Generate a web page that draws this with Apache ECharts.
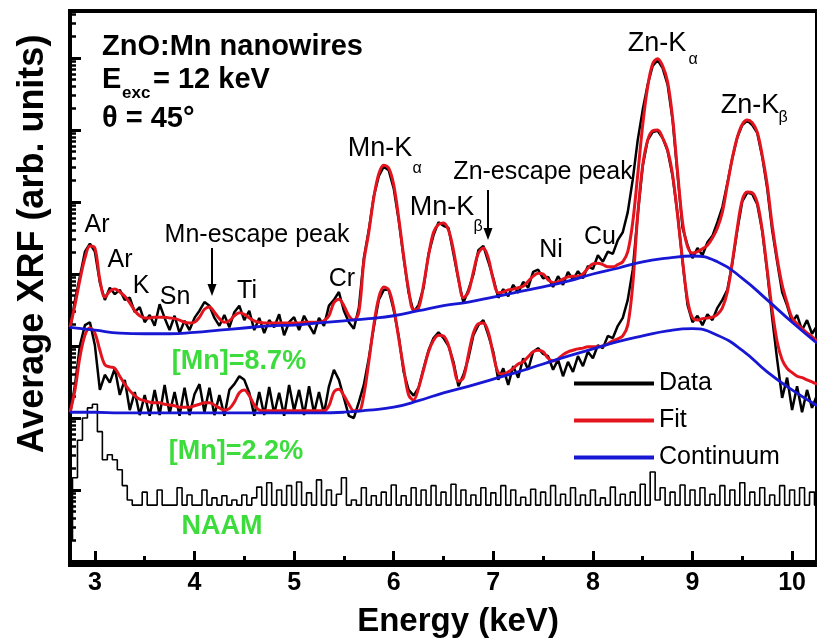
<!DOCTYPE html>
<html><head><meta charset="utf-8">
<script src="https://cdn.jsdelivr.net/npm/echarts@6/dist/echarts.min.js"></script>
<style>html,body{margin:0;padding:0;background:#fff}#c{width:817px;height:644px}</style>
</head><body><div id="c"></div>
<script>
// Energy sampling grid (keV)
const energy = [
2.75,2.8,2.85,2.9,2.95,3,3.05,3.1,3.15,3.2,
3.25,3.3,3.35,3.4,3.45,3.5,3.55,3.6,3.65,3.7,
3.75,3.8,3.85,3.9,3.95,4,4.05,4.1,4.15,4.2,
4.25,4.3,4.35,4.4,4.45,4.5,4.55,4.6,4.65,4.7,
4.75,4.8,4.85,4.9,4.95,5,5.05,5.1,5.15,5.2,
5.25,5.3,5.35,5.4,5.45,5.5,5.55,5.6,5.65,5.7,
5.75,5.8,5.85,5.9,5.95,6,6.05,6.1,6.15,6.2,
6.25,6.3,6.35,6.4,6.45,6.5,6.55,6.6,6.65,6.7,
6.75,6.8,6.85,6.9,6.95,7,7.05,7.1,7.15,7.2,
7.25,7.3,7.35,7.4,7.45,7.5,7.55,7.6,7.65,7.7,
7.75,7.8,7.85,7.9,7.95,8,8.05,8.1,8.15,8.2,
8.25,8.3,8.35,8.4,8.45,8.5,8.55,8.6,8.65,8.7,
8.75,8.8,8.85,8.9,8.95,9,9.05,9.1,9.15,9.2,
9.25,9.3,9.35,9.4,9.45,9.5,9.55,9.6,9.65,9.7,
9.75,9.8,9.85,9.9,9.95,10,10.05,10.1,10.15,10.2,
10.25];
// log10 of XRF intensity (arb. units), offset spectra
const topData = [
3.22,3.64,3.97,4.31,4.42,4.31,3.88,3.64,3.81,3.72,
3.78,3.64,3.67,3.47,3.54,3.33,3.43,3.28,3.58,3.39,
3.22,3.42,3.18,3.35,3.22,3.39,3.49,3.61,3.56,3.39,
3.28,3.43,3.26,3.47,3.56,3.36,3.49,3.22,3.39,3.18,
3.36,3.26,3.44,3.15,3.33,3.40,3.22,3.42,3.29,3.17,
3.39,3.28,3.56,3.64,3.75,3.49,3.33,3.24,3.53,4.22,
4.61,5.08,5.36,5.49,5.44,5.19,4.75,4.22,3.74,3.47,
3.57,3.81,4.28,4.54,4.72,4.67,4.64,4.28,3.92,3.60,
3.78,3.99,4.33,4.39,4.17,3.94,3.67,3.79,3.69,3.85,
3.74,3.89,3.81,4.03,4.06,3.94,3.96,3.82,3.97,3.85,
4.03,3.92,4.04,3.94,4.11,4.07,4.26,4.17,4.31,4.28,
4.47,4.58,4.86,5.31,5.86,6.28,6.63,6.89,6.97,6.86,
6.63,6.14,5.38,4.64,4.40,4.22,4.36,4.26,4.44,4.53,
4.72,4.93,5.26,5.61,5.90,6.07,6.13,6.07,5.96,5.63,
5.19,4.61,4.17,3.75,3.56,3.33,3.43,3.22,3.36,3.17,
3.28];
const topFit = [
3.26,3.57,3.92,4.22,4.39,4.36,3.92,3.68,3.76,3.79,
3.75,3.69,3.60,3.49,3.42,3.39,3.39,3.40,3.40,3.40,
3.39,3.38,3.36,3.33,3.32,3.33,3.40,3.51,3.54,3.47,
3.38,3.33,3.35,3.42,3.46,3.44,3.39,3.35,3.33,3.32,
3.32,3.32,3.32,3.32,3.32,3.32,3.32,3.33,3.33,3.33,
3.33,3.35,3.42,3.60,3.65,3.56,3.42,3.36,3.47,4.17,
4.58,5.06,5.39,5.51,5.47,5.24,4.78,4.25,3.78,3.50,
3.53,3.85,4.26,4.58,4.69,4.71,4.61,4.33,3.94,3.67,
3.75,4.03,4.29,4.36,4.22,3.92,3.74,3.75,3.78,3.79,
3.81,3.83,3.90,3.97,4.01,4.00,3.92,3.88,3.89,3.93,
3.96,3.97,3.97,4.00,4.08,4.14,4.15,4.13,4.10,4.10,
4.13,4.17,4.31,4.72,5.38,6.07,6.60,6.92,6.99,6.89,
6.67,6.17,5.42,4.72,4.38,4.29,4.31,4.35,4.40,4.50,
4.64,4.86,5.24,5.61,5.90,6.08,6.14,6.10,5.97,5.65,
5.24,4.68,4.22,3.85,3.60,3.39,3.31,3.24,3.18,3.13,
3.07];
const midData = [
2.04,2.46,3.01,3.29,3.33,3.01,2.39,2.60,2.49,2.69,
2.32,2.53,2.11,2.36,2.04,2.32,2.03,2.39,2.04,2.46,
2.06,2.36,2.03,2.42,2.04,2.33,2.47,2.08,2.42,2.04,
2.32,2.03,2.39,2.47,2.58,2.53,2.35,2.03,2.36,2.04,
2.43,2.06,2.35,2.03,2.46,2.10,2.39,2.04,2.44,2.07,
2.36,2.06,2.44,2.67,2.53,2.28,2.03,2.00,2.22,2.46,
2.83,3.26,3.64,3.78,3.78,3.50,3.14,2.64,2.39,2.31,
2.42,2.69,2.94,3.11,3.19,3.11,3.00,2.78,2.44,2.60,
2.83,3.15,3.29,3.36,3.15,2.92,2.53,2.69,2.46,2.72,
2.56,2.83,2.67,2.92,2.97,2.89,2.86,2.67,2.81,2.58,
2.78,2.64,2.86,2.72,2.92,2.83,3.01,2.97,3.14,3.11,
3.28,3.39,3.64,4.06,4.82,5.50,5.86,5.97,5.99,5.89,
5.71,5.36,4.83,4.17,3.57,3.33,3.42,3.29,3.44,3.36,
3.53,3.64,3.78,4.15,4.61,5.01,5.13,5.11,4.97,4.60,
4.03,3.39,2.81,2.28,2.56,2.11,2.44,2.08,2.39,2.14,
2.32];
const midFit = [
2.08,2.39,2.85,3.15,3.25,3.18,2.94,2.74,2.71,2.69,
2.58,2.47,2.38,2.31,2.26,2.24,2.22,2.21,2.21,2.19,
2.18,2.17,2.15,2.15,2.15,2.17,2.19,2.21,2.21,2.18,
2.14,2.11,2.13,2.22,2.35,2.39,2.31,2.18,2.11,2.10,
2.10,2.10,2.10,2.10,2.10,2.10,2.10,2.10,2.10,2.10,
2.10,2.10,2.17,2.36,2.40,2.31,2.19,2.10,2.10,2.32,
2.78,3.29,3.67,3.82,3.78,3.53,3.11,2.69,2.32,2.25,
2.42,2.67,2.92,3.08,3.15,3.14,3.01,2.74,2.51,2.56,
2.88,3.18,3.31,3.32,3.19,2.88,2.63,2.61,2.64,2.69,
2.75,2.78,2.85,2.92,2.94,2.92,2.83,2.79,2.82,2.88,
2.92,2.94,2.96,2.97,2.99,2.99,2.99,3.00,3.03,3.07,
3.10,3.14,3.29,3.85,4.82,5.51,5.86,5.99,6.00,5.89,
5.72,5.38,4.82,4.19,3.64,3.39,3.36,3.38,3.39,3.40,
3.44,3.53,3.75,4.17,4.64,5.03,5.14,5.13,4.99,4.61,
4.06,3.50,3.06,2.81,2.69,2.63,2.58,2.56,2.53,2.50,
2.47];
const naamData = [
0.31,1.17,1.69,2.00,2.14,2.19,1.81,1.42,1.49,1.42,
1.28,1.06,0.86,0.79,0.79,0.97,0.79,0.79,1.00,0.79,
0.79,0.79,1.03,0.79,0.93,0.79,0.79,1.00,0.79,0.89,
0.79,0.92,0.79,0.86,0.79,0.93,0.79,0.89,1.04,0.79,
1.10,0.79,1.00,0.79,1.06,0.79,1.11,0.79,0.96,0.79,
1.14,0.79,1.00,0.79,0.94,1.17,0.79,0.86,0.79,1.03,
0.79,0.92,0.79,0.97,0.79,1.07,0.79,0.92,0.79,1.03,
0.79,1.00,0.79,1.06,0.79,0.97,0.79,1.08,0.79,1.00,
0.79,0.93,0.79,1.03,0.79,0.96,0.79,1.06,0.79,1.00,
0.79,0.90,0.79,1.01,0.79,0.97,0.79,1.06,0.79,0.94,
0.79,1.03,0.79,0.93,0.79,1.00,0.79,0.89,0.79,1.04,
0.79,0.94,0.79,0.97,0.79,1.08,0.79,1.25,0.86,1.03,
0.79,0.97,0.79,1.07,0.79,1.00,0.79,1.03,0.79,0.94,
0.79,1.06,0.79,1.00,0.79,1.10,0.79,0.97,0.79,1.03,
0.79,0.93,0.79,1.06,0.79,1.00,0.79,1.03,0.79,0.97,
0.79];
// Continuum (coarser grid)
const contEnergy = [2.75,3,3.25,3.5,3.75,4,4.25,4.5,4.75,5,5.25,5.5,5.75,6,6.25,6.5,6.75,7,7.25,7.5,7.75,8,8.25,8.5,8.75,9,9.25,9.5,9.75,10,10.25];
const topContinuum = [3.26,3.22,3.18,3.17,3.17,3.19,3.22,3.25,3.28,3.29,3.32,3.35,3.38,3.42,3.49,3.56,3.61,3.68,3.75,3.82,3.90,4.00,4.08,4.17,4.22,4.25,4.17,3.94,3.64,3.33,3.04];
const midContinuum = [2.08,2.08,2.07,2.07,2.07,2.07,2.07,2.07,2.07,2.07,2.07,2.08,2.11,2.15,2.24,2.35,2.44,2.54,2.64,2.75,2.86,2.96,3.06,3.14,3.21,3.24,3.15,2.94,2.64,2.39,2.17];
// Axis ticks
const xTickLabels = [3,4,5,6,7,8,9,10];
const xMinorTicks = [3.5,4.5,5.5,6.5,7.5,8.5,9.5];
const yDecades = [0,1,2,3,4,5,6,7];
const yMinorTicks = [];
yDecades.forEach(k => { for (let m = 2; m <= 9; m++) { const v = k + Math.log10(m); if (v < 7.65) yMinorTicks.push(+v.toFixed(4)); } });

const FONT = '"Liberation Sans", Arial, sans-serif';
const RED = '#e3141e', BLUE = '#1717d4', GREEN = '#3cdc3c';
const pair = (xs, ys) => xs.map((x, i) => [x, ys[i]]);

const chart = echarts.init(document.getElementById('c'), null, {renderer: 'canvas'});
function txt(text, x, y, size, opts) {
  opts = opts || {};
  return { type: 'text', x: x, y: y, z: 100, rotation: opts.rot || 0,
    style: { text: text, font: (opts.bold ? 'bold ' : '') + size + 'px ' + FONT,
      fill: opts.color || '#000', align: opts.align || 'center', verticalAlign: 'middle' } };
}
const graphics = [
  txt('ZnO:Mn nanowires', 102, 47, 29, {bold: true, align: 'left'}),
  txt('E', 102, 80, 29, {bold: true, align: 'left'}),
  txt('exc', 122, 93, 17, {bold: true, align: 'left'}),
  txt('= 12 keV', 153, 80, 29, {bold: true, align: 'left'}),
  txt('\u03b8 = 45\u00b0', 102, 119, 29, {bold: true, align: 'left'}),
  txt('Ar', 97, 225, 25), txt('Ar', 120, 260, 25), txt('K', 141, 286, 25), txt('Sn', 175, 297, 25),
  txt('Mn-escape peak', 257, 235, 25), txt('Ti', 247, 291, 25), txt('Cr', 342, 279, 25),
  txt('Mn-K', 380, 149, 27), txt('\u03b1', 417, 169, 16),
  txt('Mn-K', 442, 208, 27), txt('\u03b2', 478, 227, 16),
  txt('Zn-escape peak', 543, 172, 25), txt('Ni', 551, 250, 25), txt('Cu', 600, 237, 25),
  txt('Zn-K', 657, 44, 27), txt('\u03b1', 693, 60, 16),
  txt('Zn-K', 750, 106, 27), txt('\u03b2', 783, 118, 16),
  txt('[Mn]=8.7%', 239, 362, 27, {bold: true, color: GREEN}),
  txt('[Mn]=2.2%', 236, 452, 27, {bold: true, color: GREEN}),
  txt('NAAM', 222, 527, 27, {bold: true, color: GREEN}),
  txt('Energy (keV)', 458, 622, 33, {bold: true}),
  txt('Average XRF (arb. units)', 33, 244, 36, {bold: true, rot: Math.PI / 2}),
  { type: 'line', z: 100, shape: {x1: 212, y1: 248, x2: 212, y2: 286}, style: {stroke: '#000', lineWidth: 2} },
  { type: 'polygon', z: 100, shape: {points: [[212, 296], [207.5, 284], [216.5, 284]]}, style: {fill: '#000'} },
  { type: 'line', z: 100, shape: {x1: 488, y1: 190, x2: 488, y2: 230}, style: {stroke: '#000', lineWidth: 2} },
  { type: 'polygon', z: 100, shape: {points: [[488, 240], [483.5, 228], [492.5, 228]]}, style: {fill: '#000'} }
];

const line = (name, data, color, width, extra) => Object.assign({
  type: 'line', name: name, data: data, symbol: 'none', color: color,
  lineStyle: {color: color, width: width}, animation: false, silent: true
}, extra || {});

chart.setOption({
  animation: false,
  backgroundColor: '#fff',
  grid: {left: 70, top: 11, width: 754, height: 554, show: true, borderColor: '#000', borderWidth: 4, backgroundColor: 'transparent'},
  legend: {
    data: ['Data', 'Fit', 'Continuum'], orient: 'vertical', left: 569, top: 366,
    itemWidth: 80, itemHeight: 4, itemGap: 12, icon: 'rect',
    textStyle: {fontSize: 25, color: '#000', fontFamily: FONT}
  },
  xAxis: [
    { type: 'value', min: 2.75, max: 10.25, position: 'bottom',
      axisLine: {lineStyle: {color: '#000', width: 4}},
      axisTick: {inside: true, length: 11, lineStyle: {color: '#000', width: 3}, customValues: xTickLabels},
      axisLabel: {customValues: xTickLabels, fontSize: 25, fontWeight: 'bold', color: '#000', margin: 6, fontFamily: FONT},
      splitLine: {show: false} },
    { type: 'value', min: 2.75, max: 10.25, position: 'bottom',
      axisLine: {show: false},
      axisTick: {inside: true, length: 6, lineStyle: {color: '#000', width: 3}, customValues: xMinorTicks},
      axisLabel: {show: false}, splitLine: {show: false} }
  ],
  yAxis: [
    { type: 'value', min: -0.042, max: 7.653, position: 'left',
      axisLine: {lineStyle: {color: '#000', width: 4}},
      axisTick: {inside: true, length: 11, lineStyle: {color: '#000', width: 3}, customValues: yDecades},
      axisLabel: {show: false}, splitLine: {show: false} },
    { type: 'value', min: -0.042, max: 7.653, position: 'left',
      axisLine: {show: false},
      axisTick: {inside: true, length: 6, lineStyle: {color: '#000', width: 2.5}, customValues: yMinorTicks},
      axisLabel: {show: false}, splitLine: {show: false} }
  ],
  series: [
    line('Data', pair(energy, naamData), '#000', 1.6, {step: 'middle'}),
    line('Data', pair(energy, midData), '#000', 2.5),
    line('Data', pair(energy, topData), '#000', 2.5),
    line('Fit', pair(energy, midFit), RED, 3, {smooth: 0.35}),
    line('Fit', pair(energy, topFit), RED, 3, {smooth: 0.35}),
    line('Continuum', pair(contEnergy, midContinuum), BLUE, 2.8, {smooth: true}),
    line('Continuum', pair(contEnergy, topContinuum), BLUE, 2.8, {smooth: true})
  ],
  graphic: graphics
});
</script>
</body></html>
